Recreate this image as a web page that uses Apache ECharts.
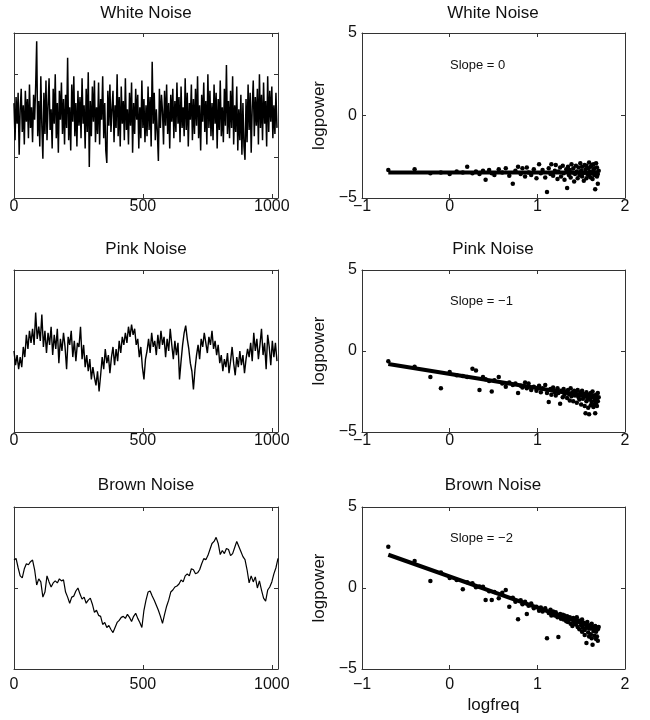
<!DOCTYPE html>
<html lang="en">
<head>
	<meta charset="UTF-8">
	<title>Noise spectra</title>
	<style type="text/css">
		html, body { margin: 0; padding: 0; background: #fff; }
		#main { width: 650px; height: 720px; }
	</style>
</head>
<body>
	<div id="main"></div>
	<script type="text/javascript" src="https://cdn.jsdelivr.net/npm/echarts@6/dist/echarts.min.js"></script>
	<script type="text/javascript">
		// time series, one value every N samples
		var whiteStep = 4;
		var whiteNoise = [
			0.6,-1.2,0.9,-0.4,1.1,-1.9,0.3,1.3,-0.8,0.5,-1.4,1.2,-0.3,0.8,-1.1,1.5,
			-0.6,0.4,-1.3,1.0,-0.2,1.4,3.6,-1.0,0.7,-1.5,1.9,-0.5,-2.1,1.1,-0.9,1.7,
			-1.2,0.5,1.8,-0.7,0.3,-1.6,1.3,-0.4,2.0,-1.1,0.6,-1.8,1.2,-0.2,1.6,-0.9,
			0.8,-1.4,1.0,-0.6,2.8,-1.2,0.4,-1.7,1.5,-0.3,1.9,-1.0,0.6,-1.5,1.2,-0.5,
			0.9,-1.1,1.8,-0.4,0.5,-1.6,1.3,-0.8,2.1,-2.5,0.7,-1.0,1.4,-0.3,1.7,-1.3,
			0.4,-0.9,1.6,-1.4,0.8,-0.2,1.9,-1.1,0.6,-1.7,-2.3,1.2,-0.5,1.5,-0.8,0.3,
			1.2,-1.3,0.5,-0.6,2.0,-1.0,0.9,-1.5,1.4,-0.4,0.7,-1.2,1.8,-0.7,0.3,-1.4,
			1.1,-0.5,1.6,-1.8,0.6,-0.9,1.3,-0.2,1.0,-1.6,0.4,-1.1,1.7,-0.6,0.8,-1.3,
			0.5,-1.0,1.4,-0.7,0.9,-1.5,2.6,-0.4,1.1,-1.2,0.3,-0.8,-2.2,1.3,-0.6,1.0,
			0.2,-1.4,1.2,-0.5,1.5,-0.9,0.6,-1.6,1.0,-0.3,1.3,-1.1,0.7,-0.8,1.6,-0.4,
			0.9,-1.3,1.4,-0.6,0.4,-1.0,1.8,-0.7,1.1,-1.5,0.6,-0.2,1.5,-1.2,0.8,-0.9,
			1.3,-0.5,1.9,-1.1,0.5,-1.7,1.0,-0.3,1.6,-0.8,0.7,-1.4,2.0,-0.6,1.2,-1.0,
			0.6,-1.2,1.5,-0.4,1.1,-1.6,0.8,-0.7,1.7,-1.0,0.4,-1.3,1.3,-0.5,2.45,-0.9,
			0.7,-1.1,1.2,-0.6,1.9,-1.4,0.5,-0.8,1.4,-1.7,0.3,-1.2,1.0,-1.9,0.6,-1.5,
			-2.15,0.8,-1.3,1.5,-0.7,1.1,-1.8,0.4,1.7,-1.0,0.9,-0.5,1.3,-1.4,2.0,-0.6,
			1.0,-1.2,1.6,-0.4,0.7,-1.5,1.9,-0.8,1.2,-0.3,1.4,-1.1,0.5,-0.9,1.1,-0.6
		];
		var pinkStep = 6;
		var pinkNoise = [
			0.0,-0.7,-0.2,-0.9,-0.3,-0.8,
			0.2,-0.3,0.8,0.1,1.0,
			0.4,1.1,0.3,1.9,0.6,1.2,
			0.5,1.8,0.2,1.0,-0.1,
			0.9,0.3,1.2,-0.2,0.8, 0.1,1.1,-0.6,0.6,0.0, 0.9,0.2,-0.9,0.7,0.3,
			1.0,-0.3,0.5,-0.5,0.4, 0.2,1.2,-0.4,0.3,-0.8, -0.2,-1.0,-0.4,-1.4,-0.8,
			-1.3,-1.7,-1.0,-2.0,-1.2, -0.3,-0.9,0.1,-0.6,-0.2, -1.1,-0.3,0.2,-0.7,0.1,
			-0.5,0.5,-0.1,0.7,0.3, 0.9,0.4,1.2,0.7,1.3, 0.8,1.1,0.3,0.6,-0.3,
			0.2,-0.8,-1.4,-0.4,0.0, 0.6,-0.1,0.9,0.2,0.5, -0.2,0.8,0.1,1.0,0.3,
			0.7,-0.3,0.6,0.0,1.1, 0.3,-0.4,0.5,-0.2,0.4, -1.4,-0.5,0.3,0.9,1.25,
			0.6,0.1,-0.6,-1.0,-1.9, -0.9,-0.2,0.3,-0.4,0.6, 0.2,0.9,0.4,-0.1,0.7,
			0.3,1.0,0.1,0.5,-0.2, 0.3,-0.6,-0.2,-1.0,-0.4, -0.8,-0.1,-1.1,-0.5,0.2,
			-0.6,-1.2,-0.3,-0.8,0.0, -0.7,-0.2,-1.1,-0.4,0.1, -0.3,0.4,-0.5,0.9,0.0,
			0.6,-0.4,0.3,1.1,-0.2, 0.4,-0.9,0.8,0.2,-0.7, 0.5,-0.3,0.4,-0.5
		];
		var brownStep = 8;
		var brownNoise = [
			1.38,1.46,1.0,0.6,0.5,0.95,1.2,1.15,1.3,1.38,0.9,0.15,0.45,0.3,-0.45,-0.2,
			0.6,0.3,0.05,0.25,0.35,0.25,0.45,0.35,0.4,-0.2,-0.45,-0.75,-0.45,-0.4,-0.15,0.0,
			-0.3,-0.55,-0.45,-0.75,-0.6,-0.5,-0.8,-1.2,-1.1,-1.35,-1.4,-1.8,-1.7,-1.95,-1.85,-2.05,
			-2.2,-1.95,-1.7,-1.6,-1.45,-1.4,-1.5,-1.3,-1.45,-1.65,-1.4,-1.25,-1.5,-1.7,-1.95,-1.1,
			-0.6,-0.2,-0.15,-0.4,-0.6,-0.85,-1.1,-1.4,-1.75,-1.3,-0.9,-0.6,-0.2,-0.1,0.05,0.1,
			0.2,0.4,0.3,0.6,0.7,0.6,0.95,0.9,0.7,0.75,0.9,1.2,1.45,1.4,1.6,1.9,
			2.2,2.3,2.5,2.2,1.65,1.85,1.7,1.95,1.9,1.6,1.7,2.0,2.3,2.05,1.8,1.55,
			1.4,0.9,0.25,0.6,0.3,0.55,0.0,0.35,-0.1,-0.5,-0.65,-0.1,0.05,0.3,0.7,1.0,
			1.46
		];

		// spectra: log10 frequency and log10 power
		var logfreq = [
			-0.70,-0.40,-0.22,-0.10,0.00,0.08,0.15,0.20,0.26,0.30,
			0.34,0.38,0.41,0.45,0.48,0.51,0.56,0.60,0.64,0.68,
			0.72,0.75,0.78,0.81,0.83,0.86,0.88,0.90,0.93,0.96,
			0.99,1.02,1.04,1.06,1.09,1.11,1.13,1.15,1.16,1.18,
			1.20,1.21,1.23,1.24,1.26,1.27,1.29,1.30,1.31,1.33,
			1.34,1.35,1.36,1.37,1.38,1.39,1.40,1.41,1.42,1.43,
			1.44,1.45,1.46,1.47,1.48,1.49,1.50,1.51,1.51,1.52,
			1.53,1.54,1.54,1.55,1.56,1.56,1.57,1.58,1.59,1.59,
			1.60,1.61,1.61,1.62,1.62,1.63,1.64,1.64,1.65,1.65,
			1.66,1.67,1.67,1.68,1.68,1.69,1.69,1.70
		];
		var whitePower = [
			-3.30,-3.25,-3.50,-3.45,-3.55,-3.40,-3.45,-3.10,-3.50,-3.40,
			-3.55,-3.35,-3.90,-3.30,-3.50,-3.60,-3.25,-3.45,-3.20,-3.65,
			-4.13,-3.35,-3.10,-3.55,-3.20,-3.70,-3.15,-3.45,-3.60,-3.25,
			-3.80,-2.95,-3.50,-3.30,-3.75,-4.63,-3.20,-3.55,-2.95,-3.65,
			-3.35,-3.00,-3.85,-3.40,-3.15,-3.70,-3.05,-3.50,-3.90,-3.25,
			-4.39,-3.10,-3.60,-3.30,-3.75,-2.95,-3.45,-3.20,-4.00,-3.55,
			-3.05,-3.40,-3.80,-3.15,-3.60,-2.90,-3.35,-3.70,-3.10,-3.50,
			-3.95,-3.00,-3.45,-3.25,-3.80,-3.05,-3.55,-3.20,-3.65,-2.85,
			-3.40,-3.75,-3.10,-3.50,-3.00,-3.85,-3.30,-2.95,-3.60,-3.20,
			-4.47,-3.45,-2.90,-3.70,-3.15,-3.55,-4.13,-3.35
		];
		var pinkPower = [
			-0.63,-0.97,-1.60,-2.30,-1.30,-1.50,-1.55,-1.60,-1.10,-1.20,
			-2.40,-1.60,-1.75,-1.85,-2.50,-1.80,-1.60,-2.00,-2.20,-1.95,
			-2.10,-2.00,-2.60,-2.15,-2.25,-1.95,-2.30,-2.00,-2.40,-2.20,
			-2.45,-2.15,-2.55,-2.30,-2.10,-2.60,-3.15,-2.35,-2.70,-2.25,
			-2.55,-2.75,-2.30,-2.60,-3.25,-2.45,-2.85,-2.35,-2.70,-2.50,
			-2.90,-2.40,-2.65,-3.05,-2.30,-2.80,-2.55,-3.10,-2.45,-2.75,
			-2.60,-3.20,-2.40,-2.85,-3.00,-2.55,-3.30,-2.70,-2.45,-2.95,
			-2.65,-3.40,-2.80,-3.85,-2.55,-3.10,-2.90,-3.50,-3.90,-2.70,
			-3.00,-2.60,-3.35,-2.85,-3.15,-2.50,-3.45,-2.75,-3.05,-3.30,
			-3.85,-2.70,-3.20,-2.95,-3.40,-2.60,-3.10,-2.85
		];
		var brownPower = [
			2.54,1.66,0.43,0.95,0.62,0.50,-0.08,0.35,0.29,0.05,
			0.10,0.08,-0.74,-0.20,-0.74,-0.25,-0.64,-0.30,-0.12,-1.15,
			-0.60,-0.85,-1.93,-0.75,-1.00,-0.85,-1.60,-1.10,-0.95,-1.25,
			-1.15,-1.40,-1.20,-1.45,-1.25,-3.10,-1.55,-1.35,-1.70,-1.45,
			-1.70,-1.50,-1.80,-3.03,-1.60,-1.90,-1.65,-1.95,-1.70,-2.05,
			-1.75,-2.10,-1.85,-1.80,-2.20,-1.90,-2.35,-1.85,-2.15,-1.95,
			-2.25,-1.80,-2.40,-2.00,-2.55,-2.05,-2.30,-2.70,-1.95,-2.45,
			-2.15,-2.60,-2.90,-2.20,-3.40,-2.45,-2.10,-2.75,-2.50,-3.00,
			-2.30,-2.85,-2.50,-3.10,-2.20,-3.50,-2.65,-2.40,-2.95,-2.60,
			-2.35,-3.15,-2.70,-2.45,-3.00,-2.55,-3.25,-2.40
		];

		// fitted lines (value at logfreq 0, slope)
		var fitIntercept = [-3.45, -1.41, 0.71];
		var fitSlope = [0, -0.875, -1.917];

		var titles = ['White Noise', 'Pink Noise', 'Brown Noise'];
		var slopeLabels = ['Slope = 0', 'Slope = \u22121', 'Slope = \u22122'];
		var timeTicks = [0, 500, 1000];
		var noiseTicks = [[-2, 2], [], [0]];
		var freqTicks = [-1, 0, 1, 2];
		var powerTicks = [-5, 0, 5];

		var FONT = '"Liberation Sans", Arial, Helvetica, sans-serif';
		var rowTops = [33, 270, 507];
		var rowHeights = [165, 162, 162];
		var labelMargins = [1, 1, 8];
		var slopeY = [67, 303, 540];
		var titleY = [5, 241, 477];
		var traceWidth = [1.5, 1.4, 1.2];

		var noise = [whiteNoise, pinkNoise, brownNoise];
		var steps = [whiteStep, pinkStep, brownStep];
		var powers = [whitePower, pinkPower, brownPower];

		function fmt(v) {
			return String(v).replace('-', '\u2212');
		}

		function makeAxis(grid, pos, min, max, ticks, labels, margin) {
			return {
				type: 'value', gridIndex: grid, position: pos, min: min, max: max,
				axisLine: { show: true, onZero: false, lineStyle: { color: '#333', width: 1 } },
				axisTick: { show: ticks.length > 0, inside: true, length: 4,
					customValues: ticks.length ? ticks : undefined, lineStyle: { color: '#333' } },
				axisLabel: { show: labels, customValues: ticks.length ? ticks : undefined, margin: margin,
					fontSize: 16, color: '#111', fontFamily: FONT, formatter: fmt },
				splitLine: { show: false }
			};
		}

		var grids = [], xAxes = [], yAxes = [], series = [], titleList = [], texts = [];

		for (var r = 0; r < 3; r++) {
			var gl = 2 * r, gr = 2 * r + 1;
			grids.push({ left: 14, top: rowTops[r], width: 264, height: rowHeights[r] });
			grids.push({ left: 362, top: rowTops[r], width: 263, height: rowHeights[r] });

			// left panel: bottom/top and left/right axes
			xAxes.push(makeAxis(gl, 'bottom', 0, 1024, timeTicks, true, labelMargins[r]));
			xAxes.push(makeAxis(gl, 'top', 0, 1024, timeTicks, false, 0));
			yAxes.push(makeAxis(gl, 'left', -4, 4, noiseTicks[r], false, 0));
			yAxes.push(makeAxis(gl, 'right', -4, 4, noiseTicks[r], false, 0));

			// right panel
			var xb = makeAxis(gr, 'bottom', -1, 2, freqTicks, true, labelMargins[r]);
			if (r === 2) {
				xb.name = 'logfreq';
				xb.nameLocation = 'middle';
				xb.nameGap = 28;
				xb.nameTextStyle = { fontSize: 17, color: '#111', fontFamily: FONT };
			}
			xAxes.push(xb);
			xAxes.push(makeAxis(gr, 'top', -1, 2, freqTicks, false, 0));
			var yl = makeAxis(gr, 'left', -5, 5, powerTicks, true, 5);
			yl.name = 'logpower';
			yl.nameLocation = 'middle';
			yl.nameGap = 34;
			yl.nameTextStyle = { fontSize: 17, color: '#111', fontFamily: FONT };
			yAxes.push(yl);
			yAxes.push(makeAxis(gr, 'right', -5, 5, powerTicks, false, 0));

			// time series
			var ts = [];
			for (var i = 0; i < noise[r].length; i++) {
				ts.push([i * steps[r], noise[r][i]]);
			}
			series.push({
				type: 'line', xAxisIndex: 2 * gl, yAxisIndex: 2 * gl, data: ts,
				showSymbol: false, lineStyle: { color: '#000', width: traceWidth[r] }
			});

			// spectrum scatter
			var pts = [];
			for (var j = 0; j < logfreq.length; j++) {
				pts.push([logfreq[j], powers[r][j]]);
			}
			series.push({
				type: 'scatter', xAxisIndex: 2 * gr, yAxisIndex: 2 * gr, data: pts,
				symbol: 'circle', symbolSize: 4.5, itemStyle: { color: '#000', opacity: 1 }
			});

			// fitted line over the frequency range
			var f0 = logfreq[0], f1 = logfreq[logfreq.length - 1];
			series.push({
				type: 'line', xAxisIndex: 2 * gr, yAxisIndex: 2 * gr, showSymbol: false,
				data: [[f0, fitIntercept[r] + fitSlope[r] * f0], [f1, fitIntercept[r] + fitSlope[r] * f1]],
				lineStyle: { color: '#000', width: 4 }
			});

			titleList.push({ text: titles[r], left: 146, top: titleY[r], textAlign: 'center', padding: 0,
				textStyle: { fontSize: 17, fontWeight: 'normal', color: '#111', fontFamily: FONT } });
			titleList.push({ text: titles[r], left: 493, top: titleY[r], textAlign: 'center', padding: 0,
				textStyle: { fontSize: 17, fontWeight: 'normal', color: '#111', fontFamily: FONT } });

			texts.push({ type: 'text', left: 450, top: slopeY[r] - 8,
				style: { text: slopeLabels[r], fontSize: 13, fill: '#111', fontFamily: FONT } });
		}

		var myChart = echarts.init(document.getElementById('main'));
		myChart.setOption({
			animation: false,
			title: titleList,
			grid: grids,
			xAxis: xAxes,
			yAxis: yAxes,
			series: series,
			graphic: texts
		});
	</script>
</body>
</html>
